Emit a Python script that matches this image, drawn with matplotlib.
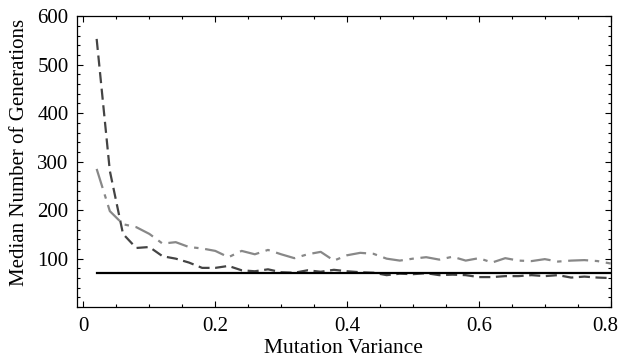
import numpy as np
import matplotlib
matplotlib.use("Agg")
import matplotlib.pyplot as plt
import matplotlib.transforms as mtransforms
from matplotlib.ticker import MultipleLocator

x = [round(0.02 * i, 2) for i in range(1, 41)]
dashed = [553, 281, 151, 122, 124, 105, 100, 92, 81, 81,
          85, 76, 74, 78, 72, 71, 76, 73, 77, 74,
          72, 71, 66, 69, 68, 70, 66, 67, 66, 62,
          62, 64, 64, 66, 64, 66, 61, 63, 61, 60]
dashdot = [285, 198, 171, 165, 151, 131, 134, 124, 121, 116,
           103, 116, 109, 118, 109, 101, 109, 114, 96, 107,
           112, 110, 100, 96, 100, 103, 98, 104, 96, 101,
           92, 101, 96, 95, 99, 94, 96, 97, 95, 90]
baseline = [71] * len(x)

plt.rcParams['font.family'] = ['Liberation Serif', 'DejaVu Serif']

fig = plt.figure(figsize=(6.2, 3.58), dpi=100)
ax = fig.add_axes([0.124, 0.142, 0.861, 0.813])

ax.plot(x, dashdot, color='#888888', lw=1.6, dashes=(9, 3, 2, 3))
ax.plot(x, dashed, color='#444444', lw=1.6, dashes=(5, 2.5))
ax.plot(x, baseline, color='black', lw=1.6)

ax.set_xlim(-0.01, 0.8)
ax.set_ylim(0, 600)
ax.xaxis.set_major_locator(MultipleLocator(0.2))
ax.xaxis.set_minor_locator(MultipleLocator(0.05))
ax.yaxis.set_major_locator(MultipleLocator(100))
ax.yaxis.set_minor_locator(MultipleLocator(20))
ax.set_xticks([0, 0.2, 0.4, 0.6, 0.8])
ax.set_xticklabels(['0', '0.2', '0.4', '0.6', '0.8'])
ax.set_yticks([100, 200, 300, 400, 500, 600])
ax.tick_params(which='both', direction='in', top=True, right=True, labelsize=15, width=0.8)
ax.tick_params(which='major', length=4)
ax.tick_params(which='minor', length=2)
ax.tick_params(axis='x', pad=7)
ax.tick_params(axis='y', pad=6)
for s in ax.spines.values():
    s.set_linewidth(0.9)

last = ax.get_xticklabels()[-1]
last.set_transform(last.get_transform() +
                   mtransforms.ScaledTranslation(-5 / 100, 0, fig.dpi_scale_trans))

ax.set_xlabel('Mutation Variance', fontsize=15.5, labelpad=2)
ax.set_ylabel('Median Number of Generations', fontsize=15, labelpad=4)
ax.yaxis.set_label_coords(-0.09, 0.53)

fig.savefig('out.png', dpi=100)
